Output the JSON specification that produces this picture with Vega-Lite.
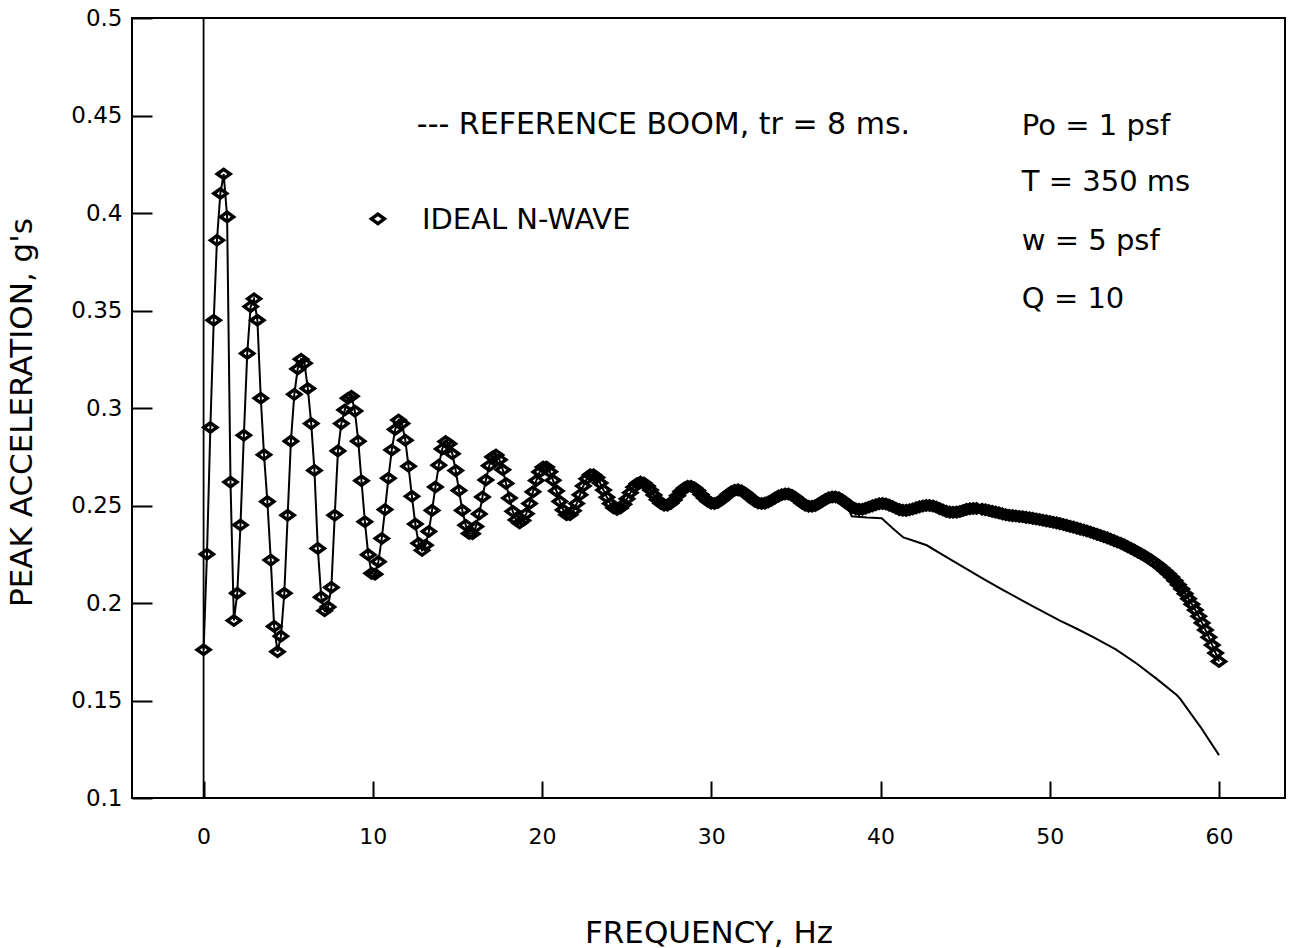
{
  "$schema": "https://vega.github.io/schema/vega-lite/v6.json",
  "width": 1153,
  "height": 780,
  "autosize": {"type": "none"},
  "padding": {"left": 132, "top": 18, "right": 9, "bottom": 150},
  "background": "white",
  "config": {
    "view": {"stroke": "black", "strokeWidth": 2},
    "font": "DejaVu Sans",
    "text": {"font": "DejaVu Sans"}
  },
  "resolve": {"axis": {"x": "independent", "y": "independent"}},
  "datasets": {
    "nwave": [
      {"f":0,"a":0.176},{"f":0.2,"a":0.225},{"f":0.4,"a":0.29},{"f":0.6,"a":0.345},{"f":0.79,"a":0.386},{"f":0.99,"a":0.41},{"f":1.19,"a":0.42},{"f":1.39,"a":0.398},{"f":1.59,"a":0.262},{"f":1.79,"a":0.191},
      {"f":1.99,"a":0.205},{"f":2.18,"a":0.24},{"f":2.38,"a":0.286},{"f":2.58,"a":0.328},{"f":2.78,"a":0.352},{"f":2.98,"a":0.356},{"f":3.18,"a":0.345},{"f":3.38,"a":0.305},{"f":3.57,"a":0.276},{"f":3.77,"a":0.252},
      {"f":3.97,"a":0.222},{"f":4.17,"a":0.188},{"f":4.37,"a":0.175},{"f":4.57,"a":0.183},{"f":4.77,"a":0.205},{"f":4.97,"a":0.245},{"f":5.16,"a":0.283},{"f":5.36,"a":0.307},{"f":5.56,"a":0.32},{"f":5.76,"a":0.325},
      {"f":5.96,"a":0.323},{"f":6.16,"a":0.31},{"f":6.36,"a":0.292},{"f":6.55,"a":0.268},{"f":6.75,"a":0.228},{"f":6.95,"a":0.203},{"f":7.15,"a":0.196},{"f":7.35,"a":0.198},{"f":7.55,"a":0.208},{"f":7.75,"a":0.245},
      {"f":7.94,"a":0.278},{"f":8.14,"a":0.292},{"f":8.34,"a":0.299},{"f":8.54,"a":0.305},{"f":8.74,"a":0.306},{"f":8.94,"a":0.2984},{"f":9.14,"a":0.283},{"f":9.33,"a":0.2627},{"f":9.53,"a":0.2417},{"f":9.73,"a":0.2248},
      {"f":9.93,"a":0.2152},{"f":10.13,"a":0.2148},{"f":10.33,"a":0.2212},{"f":10.53,"a":0.2331},{"f":10.72,"a":0.2479},{"f":10.92,"a":0.264},{"f":11.12,"a":0.2785},{"f":11.32,"a":0.289},{"f":11.52,"a":0.2938},{"f":11.72,"a":0.292},
      {"f":11.92,"a":0.2835},{"f":12.11,"a":0.2701},{"f":12.31,"a":0.2547},{"f":12.51,"a":0.2405},{"f":12.71,"a":0.2306},{"f":12.91,"a":0.227},{"f":13.11,"a":0.2296},{"f":13.31,"a":0.2367},{"f":13.5,"a":0.2475},{"f":13.7,"a":0.2595},
      {"f":13.9,"a":0.2707},{"f":14.1,"a":0.279},{"f":14.3,"a":0.2828},{"f":14.5,"a":0.2817},{"f":14.7,"a":0.2765},{"f":14.9,"a":0.2679},{"f":15.09,"a":0.2577},{"f":15.29,"a":0.2475},{"f":15.49,"a":0.2399},{"f":15.69,"a":0.2356},
      {"f":15.89,"a":0.2355},{"f":16.09,"a":0.2392},{"f":16.29,"a":0.2457},{"f":16.48,"a":0.2544},{"f":16.68,"a":0.2631},{"f":16.88,"a":0.2704},{"f":17.08,"a":0.2749},{"f":17.28,"a":0.2759},{"f":17.48,"a":0.2735},{"f":17.68,"a":0.2683},
      {"f":17.87,"a":0.2613},{"f":18.07,"a":0.2538},{"f":18.27,"a":0.247},{"f":18.47,"a":0.2426},{"f":18.67,"a":0.241},{"f":18.87,"a":0.2423},{"f":19.07,"a":0.2458},{"f":19.26,"a":0.251},{"f":19.46,"a":0.257},{"f":19.66,"a":0.2628},
      {"f":19.86,"a":0.2672},{"f":20.06,"a":0.2697},{"f":20.26,"a":0.2697},{"f":20.46,"a":0.2673},{"f":20.65,"a":0.2629},{"f":20.85,"a":0.2575},{"f":21.05,"a":0.2521},{"f":21.25,"a":0.2477},{"f":21.45,"a":0.2453},{"f":21.65,"a":0.2453},
      {"f":21.85,"a":0.2473},{"f":22.04,"a":0.251},{"f":22.24,"a":0.2555},{"f":22.44,"a":0.26},{"f":22.64,"a":0.2637},{"f":22.84,"a":0.2657},{"f":23.04,"a":0.2658},{"f":23.24,"a":0.2643},{"f":23.43,"a":0.2615},{"f":23.63,"a":0.2579},
      {"f":23.83,"a":0.2542},{"f":24.03,"a":0.251},{"f":24.23,"a":0.2488},{"f":24.43,"a":0.248},{"f":24.63,"a":0.2487},{"f":24.83,"a":0.2506},{"f":25.02,"a":0.2534},{"f":25.22,"a":0.2566},{"f":25.42,"a":0.2594},{"f":25.62,"a":0.2613},
      {"f":25.82,"a":0.262},{"f":26.02,"a":0.2615},{"f":26.22,"a":0.26},{"f":26.41,"a":0.2579},{"f":26.61,"a":0.2554},{"f":26.81,"a":0.253},{"f":27.01,"a":0.2511},{"f":27.21,"a":0.2501},{"f":27.41,"a":0.2501},{"f":27.61,"a":0.2511},
      {"f":27.8,"a":0.2528},{"f":28.0,"a":0.255},{"f":28.2,"a":0.2572},{"f":28.4,"a":0.2589},{"f":28.6,"a":0.2599},{"f":28.8,"a":0.2599},{"f":29.0,"a":0.2591},{"f":29.19,"a":0.2577},{"f":29.39,"a":0.2557},{"f":29.59,"a":0.2538},
      {"f":29.79,"a":0.2522},{"f":29.99,"a":0.2512},{"f":30.19,"a":0.251},{"f":30.39,"a":0.2515},{"f":30.58,"a":0.2527},{"f":30.78,"a":0.2541},{"f":30.98,"a":0.2557},{"f":31.18,"a":0.257},{"f":31.38,"a":0.2578},{"f":31.58,"a":0.258},
      {"f":31.78,"a":0.2575},{"f":31.97,"a":0.2565},{"f":32.17,"a":0.2551},{"f":32.37,"a":0.2536},{"f":32.57,"a":0.2522},{"f":32.77,"a":0.2513},{"f":32.97,"a":0.251},{"f":33.17,"a":0.2512},{"f":33.36,"a":0.2518},{"f":33.56,"a":0.2527},
      {"f":33.76,"a":0.2538},{"f":33.96,"a":0.2548},{"f":34.16,"a":0.2555},{"f":34.36,"a":0.2559},{"f":34.56,"a":0.2559},{"f":34.76,"a":0.2553},{"f":34.95,"a":0.2542},{"f":35.15,"a":0.2528},{"f":35.35,"a":0.2513},{"f":35.55,"a":0.2502},
      {"f":35.75,"a":0.2496},{"f":35.95,"a":0.2496},{"f":36.15,"a":0.25},{"f":36.34,"a":0.2509},{"f":36.54,"a":0.252},{"f":36.74,"a":0.2531},{"f":36.94,"a":0.254},{"f":37.14,"a":0.2544},{"f":37.34,"a":0.2544},{"f":37.54,"a":0.2539},
      {"f":37.73,"a":0.2529},{"f":37.93,"a":0.2516},{"f":38.13,"a":0.2502},{"f":38.33,"a":0.249},{"f":38.53,"a":0.2483},{"f":38.73,"a":0.248},{"f":38.93,"a":0.2481},{"f":39.12,"a":0.2486},{"f":39.32,"a":0.2492},{"f":39.52,"a":0.2498},
      {"f":39.72,"a":0.2504},{"f":39.92,"a":0.2509},{"f":40.12,"a":0.251},{"f":40.32,"a":0.2508},{"f":40.51,"a":0.2502},{"f":40.71,"a":0.2495},{"f":40.91,"a":0.2486},{"f":41.11,"a":0.2479},{"f":41.31,"a":0.2476},{"f":41.51,"a":0.2475},
      {"f":41.71,"a":0.2478},{"f":41.9,"a":0.2482},{"f":42.1,"a":0.2488},{"f":42.3,"a":0.2493},{"f":42.5,"a":0.2497},{"f":42.7,"a":0.25},{"f":42.9,"a":0.25},{"f":43.1,"a":0.2497},{"f":43.29,"a":0.2492},{"f":43.49,"a":0.2484},
      {"f":43.69,"a":0.2477},{"f":43.89,"a":0.247},{"f":44.09,"a":0.2466},{"f":44.29,"a":0.2465},{"f":44.49,"a":0.2466},{"f":44.69,"a":0.2469},{"f":44.88,"a":0.2474},{"f":45.08,"a":0.248},{"f":45.28,"a":0.2483},{"f":45.48,"a":0.2485},
      {"f":45.68,"a":0.2485},{"f":46.0,"a":0.2481},{"f":46.2,"a":0.2478},{"f":46.4,"a":0.2474},{"f":46.6,"a":0.247},{"f":46.8,"a":0.2466},{"f":47.0,"a":0.2462},{"f":47.2,"a":0.2457},{"f":47.4,"a":0.2453},{"f":47.6,"a":0.245},
      {"f":47.8,"a":0.2448},{"f":48.0,"a":0.2446},{"f":48.2,"a":0.2444},{"f":48.4,"a":0.2442},{"f":48.6,"a":0.2439},{"f":48.8,"a":0.2437},{"f":49.0,"a":0.2434},{"f":49.2,"a":0.2431},{"f":49.4,"a":0.2428},{"f":49.6,"a":0.2424},
      {"f":49.8,"a":0.2421},{"f":50.0,"a":0.2418},{"f":50.2,"a":0.2414},{"f":50.4,"a":0.2411},{"f":50.6,"a":0.2407},{"f":50.8,"a":0.2403},{"f":51.0,"a":0.2398},{"f":51.2,"a":0.2393},{"f":51.4,"a":0.2389},{"f":51.6,"a":0.2384},
      {"f":51.8,"a":0.2379},{"f":52.0,"a":0.2374},{"f":52.2,"a":0.2369},{"f":52.4,"a":0.2364},{"f":52.6,"a":0.2358},{"f":52.8,"a":0.2352},{"f":53.0,"a":0.2346},{"f":53.2,"a":0.234},{"f":53.4,"a":0.2334},{"f":53.6,"a":0.2327},
      {"f":53.8,"a":0.232},{"f":54.0,"a":0.2313},{"f":54.2,"a":0.2306},{"f":54.4,"a":0.2298},{"f":54.6,"a":0.2289},{"f":54.8,"a":0.228},{"f":55.0,"a":0.2271},{"f":55.2,"a":0.2261},{"f":55.4,"a":0.2252},{"f":55.6,"a":0.2242},
      {"f":55.8,"a":0.2231},{"f":56.0,"a":0.222},{"f":56.2,"a":0.2208},{"f":56.4,"a":0.2195},{"f":56.6,"a":0.2181},{"f":56.8,"a":0.2166},{"f":57.0,"a":0.215},{"f":57.2,"a":0.2133},{"f":57.4,"a":0.2114},{"f":57.6,"a":0.2094},
      {"f":57.8,"a":0.2072},{"f":58.0,"a":0.2048},{"f":58.2,"a":0.2022},{"f":58.4,"a":0.1994},{"f":58.6,"a":0.1964},{"f":58.8,"a":0.1932},{"f":59.0,"a":0.1898},{"f":59.2,"a":0.1862},{"f":59.4,"a":0.1824},{"f":59.6,"a":0.1784},
      {"f":59.8,"a":0.1743},{"f":60.0,"a":0.17}
    ],
    "boom": [
      {"f":37.93,"a":0.2516},{"f":38.3,"a":0.2445},{"f":39.2,"a":0.2438},{"f":40.07,"a":0.2435},{"f":40.7,"a":0.2385},{"f":41.35,"a":0.2336},{"f":42.0,"a":0.2318},{"f":42.73,"a":0.2296},{"f":43.7,"a":0.2245},{"f":44.7,"a":0.2194},
      {"f":46.0,"a":0.2128},{"f":47.25,"a":0.2066},{"f":48.9,"a":0.1988},{"f":50.6,"a":0.191},{"f":51.6,"a":0.1868},{"f":52.57,"a":0.1825},{"f":53.9,"a":0.1762},{"f":55.13,"a":0.169},{"f":56.3,"a":0.1612},{"f":57.5,"a":0.1528},
      {"f":57.7,"a":0.151},{"f":58.9,"a":0.1365},{"f":60.0,"a":0.122}
    ]
  },
  "layer": [
    {
      "data": {"name": "nwave"},
      "mark": {"type": "line", "color": "black", "strokeWidth": 2},
      "encoding": {
        "x": {
          "field": "f", "type": "quantitative",
          "scale": {"domain": [-4.23, 63.9], "nice": false, "zero": false},
          "axis": {
            "title": "FREQUENCY, Hz",
            "values": [0, 10, 20, 30, 40, 50, 60],
            "format": "d",
            "domain": false, "grid": false, "ticks": false,
            "labelFont": "DejaVu Sans", "labelFontSize": 22, "labelColor": "black",
            "labelPadding": 28, "labelFlush": false, "labelOverlap": false, "labelBound": false,
            "titleFont": "DejaVu Sans", "titleFontSize": 31, "titleFontWeight": "normal", "titleColor": "black",
            "titleY": 135, "titleBaseline": "middle"
          }
        },
        "y": {
          "field": "a", "type": "quantitative",
          "scale": {"domain": [0.1, 0.5], "nice": false, "zero": false},
          "axis": {
            "title": "PEAK ACCELERATION, g's",
            "values": [0.1, 0.15, 0.2, 0.25, 0.3, 0.35, 0.4, 0.45, 0.5],
            "format": ".2~f",
            "domain": false, "grid": false, "ticks": false,
            "labelFont": "DejaVu Sans", "labelFontSize": 23, "labelColor": "black",
            "labelPadding": 10, "labelFlush": false, "labelOverlap": false, "labelBound": false,
            "titleFont": "DejaVu Sans", "titleFontSize": 31, "titleFontWeight": "normal", "titleColor": "black",
            "titleX": -110, "titleY": 394, "titleAngle": 270, "titleBaseline": "middle", "titleAlign": "center"
          }
        }
      }
    },
    {
      "data": {"name": "boom"},
      "mark": {"type": "line", "color": "black", "strokeWidth": 2},
      "encoding": {
        "x": {
          "field": "f", "type": "quantitative",
          "axis": {
            "orient": "top", "offset": -780, "title": null, "labels": false,
            "values": [0, 10, 20, 30, 40, 50, 60],
            "domain": false, "grid": false,
            "ticks": true, "tickSize": 17, "tickWidth": 2, "tickColor": "black"
          }
        },
        "y": {
          "field": "a", "type": "quantitative",
          "axis": {
            "orient": "right", "offset": -1153, "title": null, "labels": false,
            "values": [0.1, 0.15, 0.2, 0.25, 0.3, 0.35, 0.4, 0.45, 0.5],
            "domain": false, "grid": false,
            "ticks": true, "tickSize": 20, "tickWidth": 2, "tickColor": "black"
          }
        }
      }
    },
    {
      "data": {"name": "nwave"},
      "mark": {"type": "point", "shape": "M-1,0L0,-0.72L1,0L0,0.72Z", "filled": false, "stroke": "black", "strokeWidth": 3.4, "size": 170, "opacity": 1},
      "encoding": {
        "x": {"field": "f", "type": "quantitative", "axis": null},
        "y": {"field": "a", "type": "quantitative", "axis": null}
      }
    },
    {
      "data": {"values": [{}]},
      "mark": {"type": "rule", "color": "black", "strokeWidth": 1.8},
      "encoding": {"x": {"datum": 0, "type": "quantitative", "axis": null}}
    },
    {
      "data": {"values": [{}]},
      "mark": {"type": "point", "shape": "M-1,0L0,-0.72L1,0L0,0.72Z", "filled": false, "stroke": "black", "strokeWidth": 3.4, "size": 170, "opacity": 1},
      "encoding": {"x": {"datum": 10.3, "axis": null}, "y": {"datum": 0.397, "axis": null}}
    },
    {
      "data": {"values": [{}]},
      "mark": {"type": "text", "align": "left", "baseline": "middle", "fontSize": 30, "color": "black"},
      "encoding": {"x": {"datum": 12.6, "axis": null}, "y": {"datum": 0.4451, "axis": null}, "text": {"value": "--- REFERENCE BOOM, tr = 8 ms."}}
    },
    {
      "data": {"values": [{}]},
      "mark": {"type": "text", "align": "left", "baseline": "middle", "fontSize": 29, "color": "black"},
      "encoding": {"x": {"datum": 12.9, "axis": null}, "y": {"datum": 0.3964, "axis": null}, "text": {"value": "IDEAL N-WAVE"}}
    },
    {
      "data": {"values": [{}]},
      "mark": {"type": "text", "align": "left", "baseline": "middle", "fontSize": 29, "color": "black"},
      "encoding": {"x": {"datum": 48.35, "axis": null}, "y": {"datum": 0.4446, "axis": null}, "text": {"value": "Po = 1 psf"}}
    },
    {
      "data": {"values": [{}]},
      "mark": {"type": "text", "align": "left", "baseline": "middle", "fontSize": 29, "color": "black"},
      "encoding": {"x": {"datum": 48.35, "axis": null}, "y": {"datum": 0.4159, "axis": null}, "text": {"value": "T  = 350 ms"}}
    },
    {
      "data": {"values": [{}]},
      "mark": {"type": "text", "align": "left", "baseline": "middle", "fontSize": 29, "color": "black"},
      "encoding": {"x": {"datum": 48.35, "axis": null}, "y": {"datum": 0.3856, "axis": null}, "text": {"value": "w  = 5 psf"}}
    },
    {
      "data": {"values": [{}]},
      "mark": {"type": "text", "align": "left", "baseline": "middle", "fontSize": 29, "color": "black"},
      "encoding": {"x": {"datum": 48.35, "axis": null}, "y": {"datum": 0.3559, "axis": null}, "text": {"value": "Q = 10"}}
    }
  ]
}
